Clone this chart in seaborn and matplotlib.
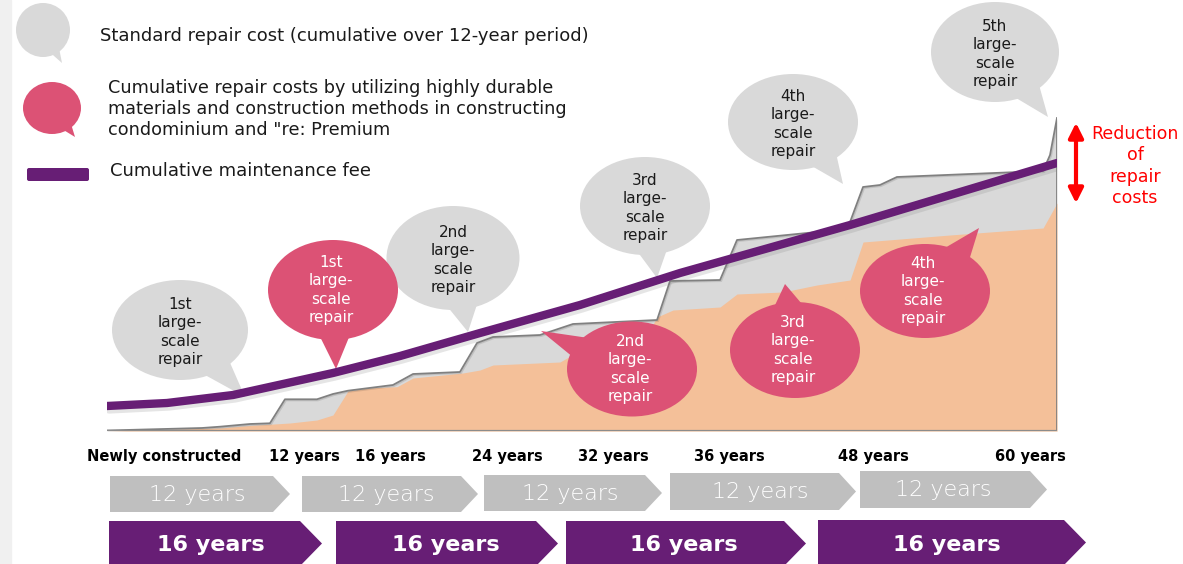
import numpy as np
import pandas as pd
import matplotlib
matplotlib.use("Agg")
import matplotlib.pyplot as plt
import matplotlib.transforms as mtransforms
from matplotlib.patches import Ellipse, Polygon, Rectangle, FancyArrowPatch, FancyBboxPatch
import matplotlib.patheffects as pe
import seaborn as sns

# ---------------- data ----------------
# standard repair cost (cumulative), x in years, y in cost index
std_years = [0, 6.0, 7.14, 9.03, 10.29, 11.24, 13.26, 14.27, 15.22, 18.06, 19.33, 22.29,
             23.37, 24.38, 27.35, 29.43, 34.74, 35.56, 38.72, 39.79, 46.11, 46.93, 47.75,
             48.82, 49.89, 59.12, 59.56, 60.0]
std_cost = [0.05, 0.3, 0.43, 0.7, 0.77, 3.17, 3.17, 3.7, 4.03, 4.6, 5.7, 5.9,
            8.8, 9.4, 9.6, 10.7, 11.1, 15.0, 15.1, 19.1, 20.1, 20.9, 24.4,
            24.6, 25.4, 26.0, 27.6, 31.3]
# cumulative repair cost with highly durable materials
dur_years = [0, 7.14, 9.03, 11.56, 13.26, 14.27, 15.22, 16.42, 18.32, 19.33, 22.48, 23.56,
             24.38, 28.61, 29.05, 34.29, 34.74, 35.75, 38.72, 39.79, 42.69, 44.84, 46.93,
             47.75, 53.24, 59.12, 60.0]
dur_cost = [0, 0.3, 0.55, 0.8, 1.1, 1.6, 4.0, 4.3, 4.43, 5.3, 5.8, 6.1,
            6.6, 6.9, 7.3, 10.1, 11.4, 12.1, 12.4, 13.7, 13.9, 14.6, 15.1,
            18.9, 19.6, 20.3, 22.8]
# cumulative maintenance fee
fee_years = [0, 3.79, 7.96, 14.27, 18.51, 23.56, 29.87, 36.19, 46.93, 60.0]
fee_cost = [2.5, 2.8, 3.6, 5.8, 7.5, 9.8, 12.6, 15.8, 20.6, 26.8]

# milestone labels under the chart (label, approximate year position)
milestone_labels = ["Newly constructed", "12 years", "16 years", "24 years", "32 years",
                    "36 years", "48 years", "60 years"]
milestone_pos = [3.6, 12.5, 17.9, 25.3, 32.0, 39.3, 48.4, 58.3]

legend_texts = ["Standard repair cost (cumulative over 12-year period)",
                "Cumulative repair costs by utilizing highly durable\nmaterials and construction methods in constructing\ncondominium and \"re: Premium",
                "Cumulative maintenance fee"]
gray_bubble_texts = ["1st\nlarge-\nscale\nrepair", "2nd\nlarge-\nscale\nrepair", "3rd\nlarge-\nscale\nrepair",
                     "4th\nlarge-\nscale\nrepair", "5th\nlarge-\nscale\nrepair"]
pink_bubble_texts = ["1st\nlarge-\nscale\nrepair", "2nd\nlarge-\nscale\nrepair", "3rd\nlarge-\nscale\nrepair",
                     "4th\nlarge-\nscale\nrepair"]
gray_cycle_labels = ["12 years"] * 5
purple_cycle_labels = ["16 years"] * 4
reduction_label = "Reduction\nof\nrepair\ncosts"

# ---------------- layout / style ----------------
W, H = 1183, 564
GRAY_BUBBLE = "#d9d9d9"
PINK = "#dc5275"
PURPLE = "#671e75"
PEACH = "#f4c099"
OUTLINE = "#808080"
CHEV_GRAY = "#bfbfbf"

sns.set_theme(style="white")
plt.rcParams["font.family"] = ["DejaVu Sans"]

fig = plt.figure(figsize=(W / 100, H / 100), dpi=100)
fig.patch.set_facecolor("white")

# chart axes: year 0 at px 107, year 60 at px 1057; value 0 at py 431, 33 at py 101
x0px, x1px, y0px, y1px = 107, 1057, 431, 101
ax = fig.add_axes([x0px / W, (H - y0px) / H, (x1px - x0px) / W, (y0px - y1px) / H])
ax.set_xlim(0, 60)
ax.set_ylim(0, 33)
ax.axis("off")

# pixel transform for decorations (origin top-left)
px = mtransforms.Affine2D().scale(1 / W, -1 / H).translate(0, 1) + fig.transFigure

# background strip on the left
ax.add_patch(Rectangle((0, 0), 11, H, transform=px, color="#f0f0f0", clip_on=False, zorder=0))

df_std = pd.DataFrame({"year": std_years, "cost": std_cost})
df_dur = pd.DataFrame({"year": dur_years, "cost": dur_cost})
df_fee = pd.DataFrame({"year": fee_years, "cost": fee_cost})

ax.fill_between(df_std["year"], 0, df_std["cost"], color=GRAY_BUBBLE, lw=0, zorder=1)
ax.fill_between(df_dur["year"], 0, df_dur["cost"], color=PEACH, lw=0, zorder=1.5)
sns.lineplot(data=df_std, x="year", y="cost", ax=ax, color=OUTLINE, lw=1.3, zorder=2,
             sort=False, estimator=None,
             path_effects=[pe.SimpleLineShadow(offset=(0.8, -0.8), alpha=0.12), pe.Normal()])
ax.plot([60, 60], [0, std_cost[-1]], color=OUTLINE, lw=1.3, zorder=2)
ax.axhline(0, color="#8c8c8c", lw=1.6, zorder=2)

# maintenance fee line (drawn on top of bubbles)
sns.lineplot(data=df_fee, x="year", y="cost", ax=ax, color=PURPLE, lw=6, zorder=6,
             sort=False, estimator=None, solid_capstyle="round",
             path_effects=[pe.SimpleLineShadow(offset=(1.5, -2.5), alpha=0.2, shadow_color="gray"), pe.Normal()])
ax.set_xlabel("")
ax.set_ylabel("")


def bubble(cx, cy, w, h, tip, color, zorder=4, spread=0.28):
    ax.add_patch(Ellipse((cx, cy), w, h, transform=px, color=color, lw=0,
                         clip_on=False, zorder=zorder))
    tx, ty = tip
    th = np.arctan2((ty - cy) / (h / 2), (tx - cx) / (w / 2))
    pts = []
    for d in (-spread, spread):
        pts.append((cx + 0.9 * w / 2 * np.cos(th + d), cy + 0.9 * h / 2 * np.sin(th + d)))
    ax.add_patch(Polygon([pts[0], (tx, ty), pts[1]], closed=True, transform=px, color=color,
                         lw=0, clip_on=False, zorder=zorder))


def ptext(x, y, s, **kw):
    ax.text(x, y, s, transform=px, clip_on=False, **kw)


# legend
bubble(43, 30, 54, 54, (62, 63), GRAY_BUBBLE, spread=0.2)
bubble(52, 108, 58, 52, (75, 137), PINK, spread=0.2)
ax.add_patch(FancyBboxPatch((27, 168), 62, 13, boxstyle="round,pad=0,rounding_size=2",
                            transform=px, color=PURPLE, lw=0, clip_on=False, zorder=4))
ptext(100, 36, legend_texts[0], fontsize=13, color="#1a1a1a", va="center", ha="left", zorder=5)
ptext(108, 109, legend_texts[1], fontsize=12.7, color="#1a1a1a", va="center", ha="left",
      linespacing=1.2, zorder=5)
ptext(110, 171, legend_texts[2], fontsize=13, color="#1a1a1a", va="center", ha="left", zorder=5)

# gray bubbles (standard large-scale repairs)
gray_b = [(180, 330, 136, 100, (245, 397)), (453, 258, 133, 104, (468, 332)),
          (645, 206, 130, 98, (657, 278)), (793, 122, 130, 96, (843, 184)),
          (995, 52, 128, 100, (1048, 117))]
for (cx, cy, w, h, tip), s in zip(gray_b, gray_bubble_texts):
    bubble(cx, cy, w, h, tip, GRAY_BUBBLE)
    ptext(cx, cy + 2, s, fontsize=11, color="#1a1a1a", ha="center", va="center",
          linespacing=1.28, zorder=5)

# pink bubbles (durable materials)
pink_b = [(333, 290, 130, 100, (336, 369)), (632, 369, 130, 95, (541, 331)),
          (795, 350, 130, 96, (785, 284)), (925, 291, 130, 94, (979, 228))]
for (cx, cy, w, h, tip), s in zip(pink_b, pink_bubble_texts):
    bubble(cx, cy, w, h, tip, PINK)
    ptext(cx - 2, cy, s, fontsize=11, color="white", ha="center", va="center",
          linespacing=1.28, zorder=5)

# reduction arrow
ax.add_patch(FancyArrowPatch((1076, 120), (1076, 206), transform=px, arrowstyle="<|-|>",
                             mutation_scale=22, color="#ff0000", lw=3, clip_on=False, zorder=5))
ptext(1135, 166, reduction_label, fontsize=12.5, color="#ff0000", ha="center", va="center",
      linespacing=1.25, zorder=5)

# milestone labels (positioned in data years)
for lab, pos in zip(milestone_labels, milestone_pos):
    ax.text(pos, -2.5, lab, fontsize=10.5, fontweight="bold", color="black",
            ha="center", va="center", clip_on=False)

# chevrons
gray_chev = [(110, 290, 476, 512, 197), (302, 478, 476, 512, 386), (484, 662, 475, 511, 570),
             (670, 856, 473, 510, 760), (860, 1047, 471, 508, 943)]
for (xa, xb, ya, yb, tx), s in zip(gray_chev, gray_cycle_labels):
    d = 17
    ax.add_patch(Polygon([(xa, ya), (xb - d, ya), (xb, (ya + yb) / 2), (xb - d, yb), (xa, yb)],
                         closed=True, transform=px, color=CHEV_GRAY, lw=0, clip_on=False, zorder=3))
    ptext(tx, (ya + yb) / 2 + 1, s, fontsize=16, color="white", ha="center", va="center",
          fontweight="light", zorder=4)

purple_chev = [(109, 322, 521, 566, 211), (336, 558, 521, 566, 446), (566, 806, 521, 566, 684),
               (818, 1086, 520, 565, 947)]
for (xa, xb, ya, yb, tx), s in zip(purple_chev, purple_cycle_labels):
    d = 22
    ax.add_patch(Polygon([(xa, ya), (xb - d, ya), (xb, (ya + yb) / 2), (xb - d, yb), (xa, yb)],
                         closed=True, transform=px, color=PURPLE, lw=0, clip_on=False, zorder=3))
    ptext(tx, 545, s, fontsize=16, color="white", ha="center", va="center",
          fontweight="bold", zorder=4)

fig.savefig("out.png", dpi=100, facecolor="white")
